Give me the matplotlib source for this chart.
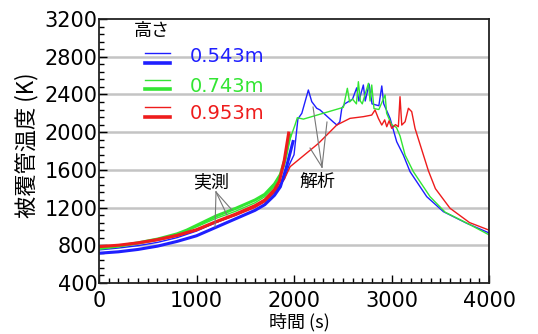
import matplotlib
matplotlib.use("Agg")
import matplotlib.pyplot as plt
from matplotlib.ticker import MultipleLocator

# measured (thick) cladding temperatures
t_blue_m = [0, 200, 400, 600, 800, 900, 1000, 1200, 1400, 1600, 1700, 1800, 1860, 1920, 1990]
T_blue_m = [715, 730, 755, 790, 840, 870, 900, 990, 1080, 1170, 1230, 1330, 1420, 1620, 1900]
t_green_m = [0, 200, 400, 600, 800, 900, 1000, 1200, 1400, 1600, 1700, 1800, 1860, 1910, 1960]
T_green_m = [765, 790, 825, 865, 920, 960, 1010, 1110, 1190, 1280, 1340, 1450, 1550, 1720, 1970]
t_red_m = [0, 200, 400, 600, 800, 900, 1000, 1200, 1400, 1600, 1700, 1800, 1850, 1900, 1945]
T_red_m = [785, 800, 825, 860, 905, 935, 965, 1050, 1130, 1220, 1280, 1390, 1480, 1700, 1990]

# analysis (thin)
t_blue_a = [0, 200, 400, 600, 800, 900, 1000, 1200, 1400, 1600, 1700, 1800, 1900, 1950, 2000,
            2040, 2080, 2147, 2182, 2233, 2267, 2400, 2440, 2470, 2490, 2520, 2600, 2643, 2665,
            2711, 2730, 2770, 2800, 2870, 2900, 2920, 2985, 3053, 3121, 3190, 3361, 3532, 3771, 4000]
T_blue_a = [750, 770, 795, 830, 880, 915, 950, 1040, 1120, 1210, 1270, 1370, 1500, 1650, 1760,
            2140, 2200, 2447, 2323, 2253, 2235, 2110, 2075, 2110, 2253, 2300, 2350, 2470, 2330,
            2500, 2330, 2510, 2300, 2280, 2490, 2300, 2146, 1898, 1757, 1580, 1315, 1156, 1033, 930]
t_green_a = [0, 200, 400, 600, 800, 900, 1000, 1200, 1400, 1600, 1700, 1800, 1900, 1950, 2010,
             2034, 2096, 2506, 2547, 2570, 2600, 2640, 2660, 2680, 2700, 2763, 2780, 2797, 2820,
             2870, 2934, 2950, 3000, 3050, 3087, 3139, 3224, 3395, 3550, 3800, 4000]
T_green_a = [770, 795, 825, 865, 915, 955, 995, 1085, 1160, 1250, 1315, 1420, 1640, 1900, 2075,
             2153, 2138, 2263, 2465, 2320, 2350, 2300, 2535, 2330, 2300, 2518, 2330, 2500, 2250,
             2240, 2394, 2200, 2080, 2050, 1960, 1757, 1580, 1315, 1150, 1020, 910]
t_red_a = [0, 200, 400, 600, 800, 900, 1000, 1200, 1400, 1600, 1700, 1800, 1900, 1960, 2250,
           2438, 2574, 2711, 2797, 2831, 2865, 2900, 2930, 2951, 2975, 3002, 3040, 3070, 3087,
           3105, 3139, 3173, 3207, 3241, 3327, 3378, 3450, 3600, 3800, 4000]
T_red_a = [775, 790, 815, 850, 895, 925, 955, 1040, 1115, 1200, 1260, 1360, 1500, 1633, 1880,
           2075, 2146, 2164, 2181, 2235, 2146, 2075, 2130, 2057, 2120, 2040, 2080, 2057, 2376,
           2075, 2110, 2253, 2217, 2040, 1757, 1590, 1400, 1192, 1040, 960]

heights = ["0.543m", "0.743m", "0.953m"]
colors = ["#1f1fff", "#33e533", "#ee1c1c"]

jp = ["Noto Sans CJK JP", "DejaVu Sans"]
plt.rcParams["font.family"] = ["DejaVu Sans", "Noto Sans CJK JP"]

fig = plt.figure(figsize=(5.38, 3.34), dpi=100)
ax = fig.add_axes([0.184, 0.153, 0.725, 0.790])

for y in range(800, 3200, 400):
    ax.axhline(y, color="#c4c4c4", lw=1.8, zorder=0)

ax.plot(t_blue_a, T_blue_a, color=colors[0], lw=1.0)
ax.plot(t_green_a, T_green_a, color=colors[1], lw=1.0)
ax.plot(t_red_a, T_red_a, color=colors[2], lw=1.0)
ax.plot(t_blue_m, T_blue_m, color=colors[0], lw=2.2)
ax.plot(t_green_m, T_green_m, color=colors[1], lw=2.2)
ax.plot(t_red_m, T_red_m, color=colors[2], lw=2.2)

# pointer lines for the labels
ax.plot([1200, 1190], [1365, 993], color="#777777", lw=0.8)
ax.plot([1200, 1313], [1365, 1120], color="#777777", lw=0.8)
ax.plot([1200, 1364], [1365, 1173], color="#777777", lw=0.8)
ax.plot([2287, 2195], [1629, 2266], color="#777777", lw=0.8)
ax.plot([2287, 2338], [1629, 2107], color="#777777", lw=0.8)
ax.plot([2287, 2164], [1629, 1831], color="#777777", lw=0.8)
ax.text(1149, 1470, "実測", family=jp, fontsize=13, ha="center", va="center")
ax.text(2236, 1470, "解析", family=jp, fontsize=13, ha="center", va="center")

# legend
ax.text(0.136, 0.955, "高さ", family=jp, fontsize=13, ha="center", va="center",
        transform=ax.transAxes)
leg_y = [(0.870, 0.832, 0.857), (0.769, 0.734, 0.745), (0.665, 0.630, 0.643)]
for (y1, y2, yt), c, h in zip(leg_y, colors, heights):
    ax.plot([0.118, 0.182], [y1, y1], color=c, lw=1.0, transform=ax.transAxes)
    ax.plot([0.118, 0.182], [y2, y2], color=c, lw=2.6, transform=ax.transAxes)
    ax.text(0.233, yt, h, color=c, fontsize=14, va="center", transform=ax.transAxes)

ax.set_xlim(0, 4000)
ax.set_ylim(400, 3200)
ax.xaxis.set_major_locator(MultipleLocator(1000))
ax.xaxis.set_minor_locator(MultipleLocator(100))
ax.yaxis.set_major_locator(MultipleLocator(400))
ax.yaxis.set_minor_locator(MultipleLocator(80))
ax.tick_params(which="both", direction="in", labelsize=15, width=1)
ax.tick_params(which="major", length=6)
ax.tick_params(which="minor", length=3.5)
ax.tick_params(axis="y", pad=1)
ax.tick_params(axis="x", pad=6)
for s in ax.spines.values():
    s.set_linewidth(1.3)
    s.set_color("#222222")

ax.set_ylabel("被覆管温度 (K)", family=jp, fontsize=16)
ax.yaxis.set_label_coords(-0.156, 0.52)
ax.set_xlabel("時間 (s)", family=jp, fontsize=13)
ax.xaxis.set_label_coords(0.515, -0.115)

fig.savefig("out.png", dpi=100)
